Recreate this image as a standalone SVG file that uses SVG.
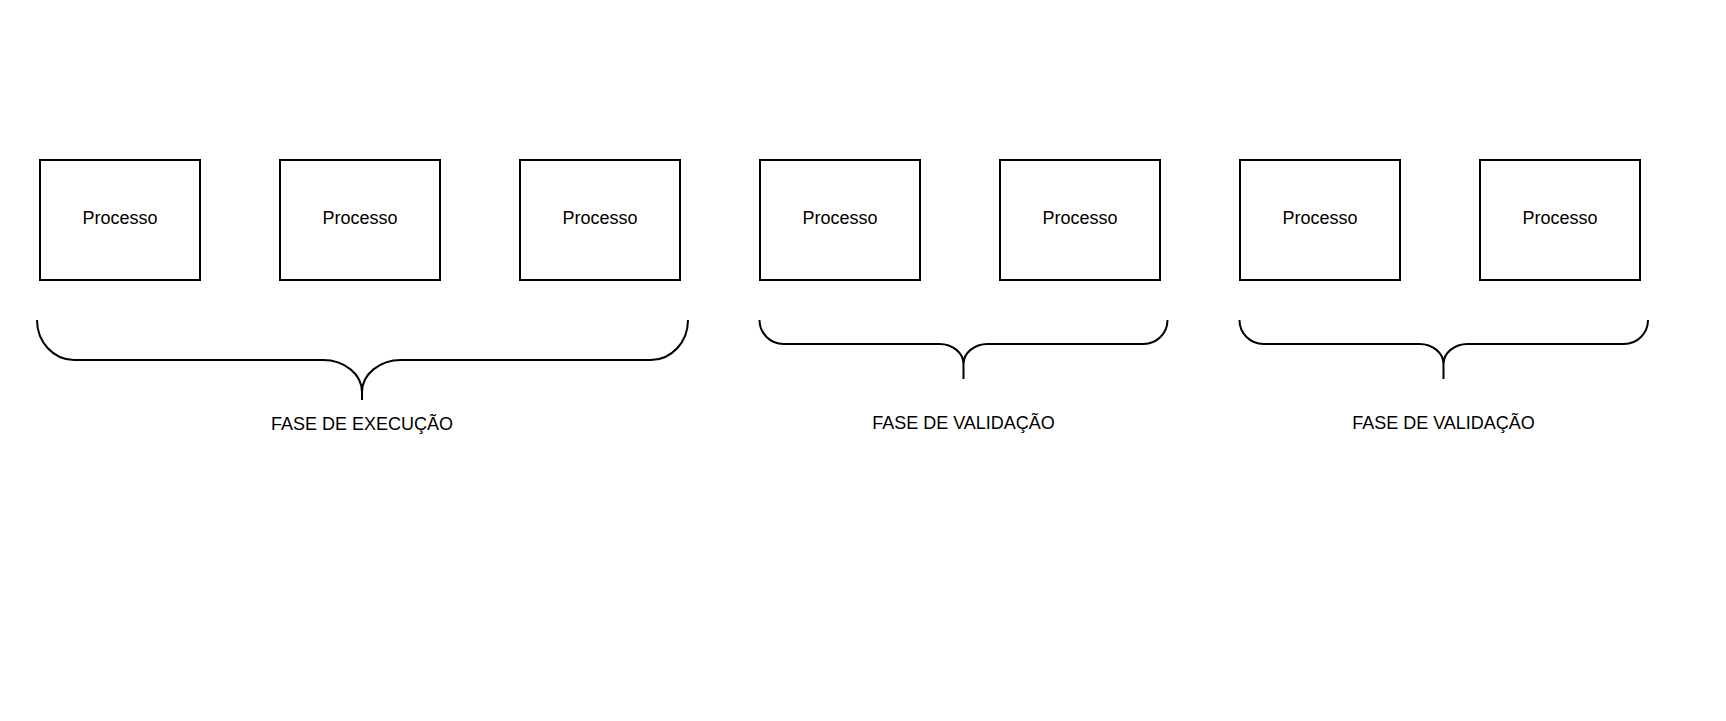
<svg xmlns="http://www.w3.org/2000/svg" width="1726" height="721" viewBox="0 0 1726 721">
<style>
.box{fill:#fff;stroke:#000;stroke-width:2}
.brace{fill:none;stroke:#000;stroke-width:2}
text{font-family:"Liberation Sans",Arial,sans-serif;font-size:18px;fill:#000;text-anchor:middle}
</style>
<rect width="1726" height="721" fill="#fff"/>
<g id="p1"><rect class="box" x="40" y="160" width="160" height="120"/><text x="120" y="224">Processo</text></g>
<g id="p2"><rect class="box" x="280" y="160" width="160" height="120"/><text x="360" y="224">Processo</text></g>
<g id="p3"><rect class="box" x="520" y="160" width="160" height="120"/><text x="600" y="224">Processo</text></g>
<g id="p4"><rect class="box" x="760" y="160" width="160" height="120"/><text x="840" y="224">Processo</text></g>
<g id="p5"><rect class="box" x="1000" y="160" width="160" height="120"/><text x="1080" y="224">Processo</text></g>
<g id="p6"><rect class="box" x="1240" y="160" width="160" height="120"/><text x="1320" y="224">Processo</text></g>
<g id="p7"><rect class="box" x="1480" y="160" width="160" height="120"/><text x="1560" y="224">Processo</text></g>
<g id="brace-execucao">
<path class="brace" d="M37 320 A37 40 0 0 0 74 360 L323 360 A39 32 0 0 1 362 392 L362 400 M362 392 A39 32 0 0 1 401 360 L651 360 A37 40 0 0 0 688 320"/>
<text x="362" y="430">FASE DE EXECUÇÃO</text>
</g>
<g id="brace-validacao-1">
<path class="brace" d="M759.5 320 A24 24 0 0 0 783.5 344 L939.5 344 A24 20 0 0 1 963.5 364 L963.5 379 M963.5 364 A24 20 0 0 1 987.5 344 L1143.5 344 A24 24 0 0 0 1167.5 320"/>
<text x="963.5" y="428.5">FASE DE VALIDAÇÃO</text>
</g>
<g id="brace-validacao-2">
<path class="brace" d="M1239.5 320 A24 24 0 0 0 1263.5 344 L1419.5 344 A24 20 0 0 1 1443.5 364 L1443.5 379 M1443.5 364 A24 20 0 0 1 1467.5 344 L1624 344 A24 24 0 0 0 1648 320"/>
<text x="1443.5" y="428.5">FASE DE VALIDAÇÃO</text>
</g>
</svg>
